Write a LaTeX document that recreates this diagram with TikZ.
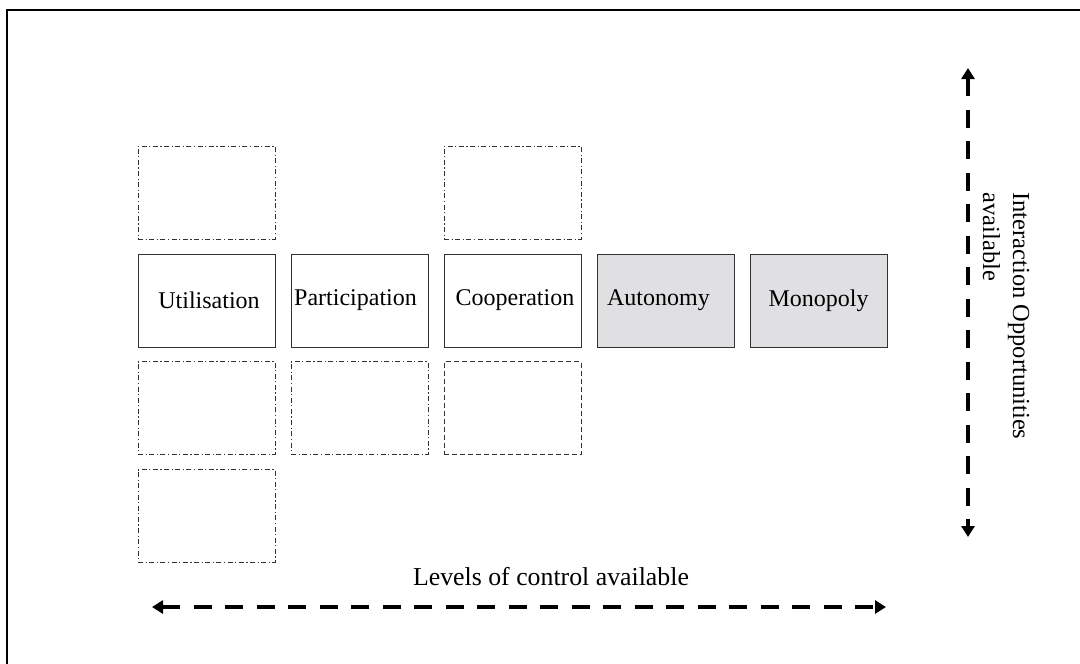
\documentclass[tikz,border=0pt]{standalone}
\usepackage{fontspec}
\setmainfont{Liberation Serif}
\usetikzlibrary{arrows.meta}
\definecolor{boxgray}{RGB}{224,224,226}
\definecolor{edgegray}{RGB}{50,50,50}
\tikzset{
  cell/.style={draw=edgegray, line width=1pt, minimum width=137pt, minimum height=93pt,
    inner sep=0pt, font=\fontsize{24}{28}\selectfont},
  filled/.style={cell, fill=boxgray},
  dashdotbox/.style={cell, dash pattern=on 5pt off 2.5pt on 1.2pt off 2.5pt},
  dashbox/.style={cell, dash pattern=on 5pt off 3pt},
  bigarrow/.style={line width=4pt, dash pattern=on 18pt off 13.5pt,
    {Triangle[width=13pt,length=11pt]}-{Triangle[width=13pt,length=11pt]}},
  axislabel/.style={font=\fontsize{24.5}{30}\selectfont, inner sep=0pt}
}
\begin{document}
\begin{tikzpicture}[x=1pt,y=-1pt]
\useasboundingbox (0,0) rectangle (1080,664);
% frame
\draw[line width=1.8pt] (7,664) -- (7,10) -- (1080,10);
% main row
\node[cell] (util) at (206.5,300.5) {\hspace*{5pt}Utilisation};
\node[cell] (part) at (359.5,300.5) {\hspace*{-8pt}Participation};
\node[cell] (coop) at (512.5,300.5) {\hspace*{5pt}Cooperation};
\node[filled] (auto) at (665.5,300.5) {\hspace*{-14pt}Autonomy};
\node[filled] (mono) at (818.5,300.5) {Monopoly};
% empty boxes
\node[dashdotbox] (utilup) at (206.5,192.5) {};
\node[dashdotbox] (coopup) at (512.5,192.5) {};
\node[dashdotbox] (utildown) at (206.5,408) {};
\node[dashdotbox] (partdown) at (359.5,408) {};
\node[dashbox] (coopdown) at (512.5,408) {};
\node[dashdotbox] (utildown2) at (206.5,516) {};
% arrows
\coordinate (hl) at (152,607);
\coordinate (hr) at (886,607);
\coordinate (vt) at (968,68);
\coordinate (vb) at (968,537);
\draw[bigarrow] (hl) -- (hr);
\draw[bigarrow] (vt) -- (vb);
% labels
\node[axislabel, font=\fontsize{25.8}{30}\selectfont] (hlabel) at (551,577) {Levels of control available};
\node[axislabel, rotate=-90, align=left] (vlabel) at (1006,316) {Interaction Opportunities\\available};
\end{tikzpicture}
\end{document}
